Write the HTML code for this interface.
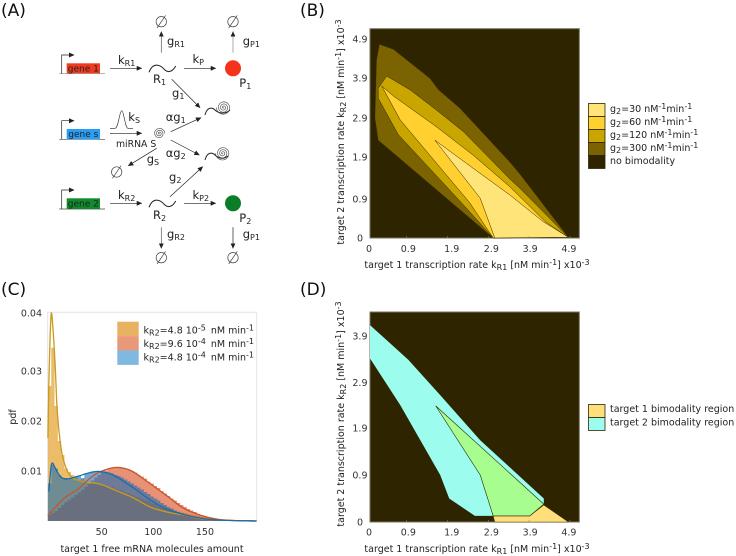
<!DOCTYPE html>
<html lang="en">
<head>
<meta charset="utf-8">
<title>Bimodality figure</title>
<style>
html,body{margin:0;padding:0;background:#fff;width:736px;height:556px;overflow:hidden}
svg{display:block;filter:blur(0.3px)}
text{font-family:"DejaVu Sans","Liberation Sans",sans-serif;fill:#222;font-size:9.5px}
.big{font-size:11.5px}
.pan{font-size:17px;fill:#111}
.gene{font-size:9px;fill:#222}
.sub{font-size:8px}
.tick{font-size:9.5px;fill:#333}
</style>
</head>
<body>
<svg id="fig" xmlns="http://www.w3.org/2000/svg" width="736" height="556" viewBox="0 0 736 556">
<defs>
<marker id="ah" markerWidth="6" markerHeight="6" refX="5" refY="2.5" orient="auto" markerUnits="userSpaceOnUse"><path d="M0,0 L5.5,2.5 L0,5 Z" fill="#222"/></marker>
</defs>

<text class="pan" x="1" y="16">(A)</text>
<text class="pan" x="300" y="16">(B)</text>
<text class="pan" x="1" y="295">(C)</text>
<text class="pan" x="300" y="295">(D)</text>

<g id="panelA" fill="none" stroke="#222" stroke-width="0.7">
  <g>
    <path d="M59.3,73.7H105" stroke="#888"/><path d="M61.7,73.7V55H74" marker-end="url(#ah)"/>
    <rect x="66.7" y="63.3" width="33.3" height="10" fill="#ef3a1e" stroke="none"/>
    <text class="gene" x="83.3" y="71.5" text-anchor="middle" stroke="none">gene 1</text>
  </g>
  <g>
    <path d="M59.3,139.3H105" stroke="#444"/><path d="M61.7,139.3V120.7H74" marker-end="url(#ah)"/>
    <rect x="66.7" y="129" width="33.3" height="10.3" fill="#2a9df4" stroke="none"/>
    <text class="gene" x="83.3" y="137" text-anchor="middle" stroke="none">gene s</text>
  </g>
  <g>
    <path d="M59.3,209H105" stroke="#444"/><path d="M61.7,209V190H74" marker-end="url(#ah)"/>
    <rect x="66.7" y="198.3" width="33.3" height="10.7" fill="#0f8a2c" stroke="none"/>
    <text class="gene" x="83.3" y="206.5" text-anchor="middle" stroke="none">gene 2</text>
  </g>
  <g>
    <path d="M110,68.3H141.7" marker-end="url(#ah)"/>
    <path d="M184,68.3H215.7" marker-end="url(#ah)"/>
    <path d="M161.3,52.7V31.7" marker-end="url(#ah)" stroke="#555"/>
    <path d="M233,52.7V31.7" marker-end="url(#ah)" stroke="#888"/>
    <path d="M171.7,79.3L200,107.7" marker-end="url(#ah)"/>
    <path d="M170.7,131.7L201,117.7" marker-end="url(#ah)"/>
    <path d="M110,133.3H141.7" marker-end="url(#ah)"/>
    <path d="M170.7,140L199.3,155" marker-end="url(#ah)"/>
    <path d="M156.7,148.3L128.3,165.7" marker-end="url(#ah)"/>
    <path d="M170,196.7L202.7,166.7" marker-end="url(#ah)"/>
    <path d="M110,203.3H141.7" marker-end="url(#ah)"/>
    <path d="M184,203.3H215.7" marker-end="url(#ah)"/>
    <path d="M161.3,227.3V248.3" marker-end="url(#ah)" stroke="#555"/>
    <path d="M233,227.3V248.3" marker-end="url(#ah)"/>
  </g>
  <path d="M110,128.3H115C118.5,128.3 119.5,110.7 121.7,110.7C123.9,110.7 125,128.3 128,128.3H133" stroke-width="0.6"/>
  <path stroke-width="1" d="M149,72.3C153,61.7 160,65 163.3,68.3C166.7,72.7 171.7,73.3 175.7,66"/>
  <path stroke-width="1" d="M149,207.3C153,196.7 160,200 163.3,203.3C166.7,207.7 171.7,208.3 175.7,201"/>
  <circle cx="233" cy="68.3" r="8" fill="#f5321a" stroke="none"/>
  <circle cx="233" cy="203.3" r="8" fill="#0b7d26" stroke="none"/>
  <path stroke-width="1" d="M205,115C207,107 212,107 215,110C218,113 225,115 230,110"/>
  <path stroke-width="1" d="M205,160C207,152 212,152 215,155C218,158 223,160 228,156"/>
  <path id="spiralC1" stroke="#444" stroke-width="0.6"/>
  <path id="spiralC2" stroke="#444" stroke-width="0.6"/>
  <path id="spiralS" stroke="#444" stroke-width="0.6"/>
  <g stroke="#444" stroke-width="0.7">
    <circle cx="161.3" cy="21.7" r="5.2"/><path d="M157,28L165.6,15.4"/>
    <circle cx="233" cy="21.7" r="5.2"/><path d="M228.7,28L237.3,15.4"/>
    <circle cx="116.7" cy="172" r="5.2"/><path d="M112.4,178.3L121,165.7"/>
    <circle cx="161.3" cy="257.7" r="5.2"/><path d="M157,264L165.6,251.4"/>
    <circle cx="233" cy="257.7" r="5.2"/><path d="M228.7,264L237.3,251.4"/>
  </g>
  <g stroke="none" fill="#222">
    <text class="big" x="118" y="64">k<tspan class="sub" dy="2">R1</tspan></text>
    <text class="big" x="192.5" y="63">k<tspan class="sub" dy="2">P</tspan></text>
    <text class="big" x="167" y="45">g<tspan class="sub" dy="2">R1</tspan></text>
    <text class="big" x="242.7" y="45">g<tspan class="sub" dy="2">P1</tspan></text>
    <text class="big" x="153" y="83">R<tspan class="sub" dy="2">1</tspan></text>
    <text class="big" x="239.3" y="87">P<tspan class="sub" dy="2">1</tspan></text>
    <text class="big" x="172" y="97">g<tspan class="sub" dy="2">1</tspan></text>
    <text class="big" x="165.7" y="121">αg<tspan class="sub" dy="2">1</tspan></text>
    <text class="big" x="128.3" y="121">k<tspan class="sub" dy="2">S</tspan></text>
    <text x="116" y="147" style="font-size:9.3px">miRNA S</text>
    <text class="big" x="165.7" y="157">αg<tspan class="sub" dy="2">2</tspan></text>
    <text class="big" x="146.7" y="163">g<tspan class="sub" dy="2">S</tspan></text>
    <text class="big" x="169" y="181">g<tspan class="sub" dy="2">2</tspan></text>
    <text class="big" x="118" y="199">k<tspan class="sub" dy="2">R2</tspan></text>
    <text class="big" x="192.5" y="199">k<tspan class="sub" dy="2">P2</tspan></text>
    <text class="big" x="153" y="219">R<tspan class="sub" dy="2">2</tspan></text>
    <text class="big" x="239.3" y="222">P<tspan class="sub" dy="2">2</tspan></text>
    <text class="big" x="167" y="238">g<tspan class="sub" dy="2">R2</tspan></text>
    <text class="big" x="242.7" y="238">g<tspan class="sub" dy="2">P1</tspan></text>
  </g>
</g>

<g id="panelB"></g>
<text x="477" y="268" text-anchor="middle">target 1 transcription rate k<tspan class="sub" dy="2">R1</tspan><tspan dy="-2"> [nM min</tspan><tspan class="sub" dy="-3">-1</tspan><tspan dy="3">] x10</tspan><tspan class="sub" dy="-3">-3</tspan></text>
<text transform="translate(344,132) rotate(-90)" text-anchor="middle">target 2 transcription rate k<tspan class="sub" dy="2">R2</tspan><tspan dy="-2"> [nM min</tspan><tspan class="sub" dy="-3">-1</tspan><tspan dy="3">] x10</tspan><tspan class="sub" dy="-3">-3</tspan></text>

<g>
  <g stroke="#2e2500" stroke-width="0.8">
    <rect x="588.5" y="103.5" width="16.5" height="13" fill="#ffe47a"/>
    <rect x="588.5" y="116.5" width="16.5" height="13" fill="#ffd02f"/>
    <rect x="588.5" y="129.5" width="16.5" height="13" fill="#c9a500"/>
    <rect x="588.5" y="142.5" width="16.5" height="13" fill="#7a6300"/>
    <rect x="588.5" y="155.5" width="16.5" height="13" fill="#2e2500"/>
  </g>
  <text x="610" y="112">g<tspan class="sub" dy="2">2</tspan><tspan dy="-2">=30 nM</tspan><tspan class="sub" dy="-3">-1</tspan><tspan dy="3">min</tspan><tspan class="sub" dy="-3">-1</tspan></text>
  <text x="610" y="125">g<tspan class="sub" dy="2">2</tspan><tspan dy="-2">=60 nM</tspan><tspan class="sub" dy="-3">-1</tspan><tspan dy="3">min</tspan><tspan class="sub" dy="-3">-1</tspan></text>
  <text x="610" y="138">g<tspan class="sub" dy="2">2</tspan><tspan dy="-2">=120 nM</tspan><tspan class="sub" dy="-3">-1</tspan><tspan dy="3">min</tspan><tspan class="sub" dy="-3">-1</tspan></text>
  <text x="610" y="151">g<tspan class="sub" dy="2">2</tspan><tspan dy="-2">=300 nM</tspan><tspan class="sub" dy="-3">-1</tspan><tspan dy="3">min</tspan><tspan class="sub" dy="-3">-1</tspan></text>
  <text x="610" y="164">no bimodality</text>
</g>

<g id="panelC"></g>
<text transform="translate(16,417) rotate(-90)" text-anchor="middle">pdf</text>
<text x="152" y="552" text-anchor="middle">target 1 free mRNA molecules amount</text>
<g>
  <rect x="117.3" y="321.7" width="21.4" height="14.4" fill="#e9b163"/>
  <rect x="117.3" y="336.1" width="21.4" height="14.4" fill="#e89a78"/>
  <rect x="117.3" y="350.5" width="21.4" height="14.4" fill="#7fb8e0"/>
  <text x="143.5" y="333.5">k<tspan class="sub" dy="2">R2</tspan><tspan dy="-2">=4.8 10</tspan><tspan class="sub" dy="-3">-5</tspan><tspan dy="3" dx="2"> nM min</tspan><tspan class="sub" dy="-3">-1</tspan></text>
  <text x="143.5" y="347">k<tspan class="sub" dy="2">R2</tspan><tspan dy="-2">=9.6 10</tspan><tspan class="sub" dy="-3">-4</tspan><tspan dy="3" dx="2"> nM min</tspan><tspan class="sub" dy="-3">-1</tspan></text>
  <text x="143.5" y="360.5">k<tspan class="sub" dy="2">R2</tspan><tspan dy="-2">=4.8 10</tspan><tspan class="sub" dy="-3">-4</tspan><tspan dy="3" dx="2"> nM min</tspan><tspan class="sub" dy="-3">-1</tspan></text>
</g>

<g id="panelD"></g>
<text x="477" y="552" text-anchor="middle">target 1 transcription rate k<tspan class="sub" dy="2">R1</tspan><tspan dy="-2"> [nM min</tspan><tspan class="sub" dy="-3">-1</tspan><tspan dy="3">] x10</tspan><tspan class="sub" dy="-3">-3</tspan></text>
<text transform="translate(344,414) rotate(-90)" text-anchor="middle">target 2 transcription rate k<tspan class="sub" dy="2">R2</tspan><tspan dy="-2"> [nM min</tspan><tspan class="sub" dy="-3">-1</tspan><tspan dy="3">] x10</tspan><tspan class="sub" dy="-3">-3</tspan></text>
<g stroke-width="0.8">
  <rect x="588.5" y="404.5" width="16.5" height="13" fill="#ffdf7b" stroke="#2e2500"/>
  <rect x="588.5" y="417.5" width="16.5" height="13" fill="#9cfced" stroke="#2e2500"/>
  <text x="610" y="412">target 1 bimodality region</text>
  <text x="610" y="425.5">target 2 bimodality region</text>
</g>
</svg>

<script>
// Panel B data (units of 1e-3 nM/min)
const bXTicks = [0, 0.9, 1.9, 2.9, 3.9, 4.9];
const bYTicks = [0, 0.9, 1.9, 2.9, 3.9, 4.9];
const g300Region = [[.23,4.77],[.57,4.65],[1.47,3.93],[1.68,3.65],[2.2,3.2],[3.43,1.87],[3.68,1.57],[4.86,.02],[3.02,0],[.20,2.41],[.12,2.95],[.16,4.38]];
const g120Region = [[.41,3.99],[.98,3.65],[1.63,3.15],[2.29,2.62],[3.43,1.45],[3.68,1.22],[4.86,.02],[3.02,0],[2.37,.73],[.69,2.55],[.20,3.44],[.20,3.69]];
const g60Region = [[.29,3.74],[.57,3.5],[1.63,2.74],[2.53,2.04],[3.43,1.26],[4.3,.4],[4.86,.02],[3.02,0],[2.45,.86],[.74,2.91]];
const g30Region = [[1.59,2.41],[2.5,1.74],[3.43,1.06],[4.25,.40],[4.86,.02],[3.06,0],[2.70,.98]];

// Panel D data
const dXTicks = [0, 0.9, 1.9, 2.9, 3.9, 4.9];
const dYTicks = [0, 0.9, 1.9, 2.9, 3.9];
const target2Region = [[0,4.19],[.94,3.45],[1.72,2.70],[2.70,1.74],[4.26,.50],[4.26,.38],[3.92,.13],[2.57,.13],[1.94,.50],[1.72,1.0],[.74,2.49],[0,3.48]];
const overlapRegion = [[1.61,2.47],[4.26,.38],[3.92,.13],[3.02,.13],[2.70,1.0]];
const target1Region = [[3.02,.13],[3.92,.13],[4.26,.36],[4.86,0],[3.06,0]];

// Panel C data
const cXTicks = [50, 100, 150];
const cYTicks = [0.01, 0.02, 0.03, 0.04];
const binStart = -2;
const binWidth = 3.2;
const histLow = [.027,.034,.023,.016,.0132,.0105,.0098,.0092,.0088,.0082,.0084,.008,.0078,.0076,.0077,.0072,.0074,.007,.0068,.0068,.0064,.0062,.0061,.0057,.0056,.0052,.0049,.0048,.0044,.0041,.0039,.0035,.0034,.003,.0029,.0026,.0024,.0023,.002,.0019,.0017,.0016,.0014,.0013,.0011,.001,.0008,.0007,.0006,.0005,.0004,.0003,.0003,.0002,.0002,.0001,.0001,.0001];
const histHigh = [.0012,.0016,.002,.0026,.0032,.0038,.0042,.0047,.0052,.0057,.0062,.0068,.0074,.0081,.0087,.0092,.0098,.0101,.0104,.0106,.0107,.0107,.0106,.0105,.0103,.01,.0097,.0092,.0089,.0085,.0079,.0075,.007,.0066,.006,.0055,.005,.0045,.0041,.0036,.0032,.0028,.0024,.0021,.0018,.0014,.0012,.001,.0008,.0006,.0005,.0004,.0003,.0002,.0002,.0001,.0001];
const histMid = [.0075,.0112,.0105,.0092,.0086,.0086,.0084,.0086,.0088,.009,.0086,.0094,.0096,.0097,.0098,.0099,.0099,.0098,.0097,.0095,.0092,.009,.0087,.0083,.0079,.0075,.0071,.0067,.0063,.0058,.0054,.0049,.0045,.0041,.0036,.0032,.0028,.0025,.0021,.0018,.0016,.0013,.0011,.0009,.0008,.0006,.0005,.0004,.0003,.0002,.0002,.0001,.0001];
const lowX = [-2,-1,0,1.3,3,5,7,10,13,19,29,48,65,81,97,113,129,145,161,200];
const lowPdf = [.0166,.0285,.0353,.04,.037,.031,.022,.0156,.0122,.0092,.008,.0074,.006,.0046,.0028,.0018,.0012,.0005,.0002,0];
const highX = [-2,14,26,39,48,63,78,94,114,129,145,161,177,200];
const highPdf = [.0011,.0046,.0062,.0086,.0098,.0107,.0101,.0079,.0049,.0026,.0012,.0004,.0001,0];
const midX = [-1,.7,2.2,5,10,16,26,39,48,61,81,97,113,129,145,161,200];
const midPdf = [.0059,.0102,.0116,.0106,.0089,.0084,.0089,.0097,.0099,.0092,.0066,.0042,.0024,.0013,.0006,.0002,0];

// Label placement offsets in px (layout only, not data)
const xLabelNudge = [-1, 1.6, 4.2, 3, 1, -1];
const bYLabelNudge = [0, -2.5, -3.9, -2.3, -1.7, 0];
const dYLabelNudge = [0, -4.7, -4.7, -3, -2.7];

const NS = 'http://www.w3.org/2000/svg';
function make(parent, tag, attrs) {
  const el = document.createElementNS(NS, tag);
  for (const k in attrs) el.setAttribute(k, attrs[k]);
  parent.appendChild(el);
  return el;
}

// Spirals for the diagram
function spiralPath(cx, cy, rMax, turns) {
  let d = '';
  const steps = turns * 24;
  for (let i = 0; i <= steps; i++) {
    const f = i / steps;
    const a = f * turns * 2 * Math.PI;
    const r = rMax * f;
    d += (i ? 'L' : 'M') + (cx + r * Math.cos(a)).toFixed(2) + ',' + (cy + r * Math.sin(a)).toFixed(2);
  }
  return d;
}
document.getElementById('spiralC1').setAttribute('d', spiralPath(223.5, 107.5, 7.2, 3.5));
document.getElementById('spiralC2').setAttribute('d', spiralPath(222.7, 153.3, 7.2, 3.5));
document.getElementById('spiralS').setAttribute('d', spiralPath(159.3, 133.5, 5.6, 3));

// Shared drawing for the region maps
function polyPoints(region, sx, sy) {
  return region.map(function (p) { return sx(p[0]).toFixed(1) + ',' + sy(p[1]).toFixed(1); }).join(' ');
}
function drawFrame(g, prefix, left, top, w, h) {
  const bg = make(g, 'rect', {x: left, y: top, width: w, height: h, fill: '#2e2500', stroke: '#77735f', 'stroke-width': 1});
  
  
}
function drawTicks(g, prefix, xTicks, yTicks, sx, sy, bottom, left, labelY, yNudge) {
  xTicks.forEach(function (v, i) {
    const tk = make(g, 'line', {x1: sx(v), x2: sx(v), y1: bottom, y2: bottom - 2, stroke: '#8a8468', 'stroke-width': .6});
    
    
    const t = make(g, 'text', {x: sx(v) + xLabelNudge[i], y: labelY, 'text-anchor': 'middle', class: 'tick'});
    
    
    t.textContent = v === 0 ? '0' : v.toFixed(1);
  });
  yTicks.forEach(function (v, i) {
    const t = make(g, 'text', {x: v === 0 ? left - 7 : left - 2.5, y: sy(v) + yNudge[i] + 3.4, 'text-anchor': 'end', class: 'tick'});
    
    
    t.textContent = v === 0 ? '0' : v.toFixed(1);
  });
}

// Panel B
(function () {
  const g = document.getElementById('panelB');
  const sx = function (v) { return 370 + v * 40.8; };
  const sy = function (v) { return 238 - v * 40.6; };
  drawFrame(g, 'b', 370, 28.7, 209.3, 209.3);
  const r300 = make(g, 'polygon', {points: polyPoints(g300Region, sx, sy), fill: '#7a6300', stroke: '#2e2500', 'stroke-width': .3});
  
  
  const r120 = make(g, 'polygon', {points: polyPoints(g120Region, sx, sy), fill: '#c9a500', stroke: '#2e2500', 'stroke-width': .5});
  
  
  const r60 = make(g, 'polygon', {points: polyPoints(g60Region, sx, sy), fill: '#ffd02f', stroke: '#2e2500', 'stroke-width': .5});
  
  
  const r30 = make(g, 'polygon', {points: polyPoints(g30Region, sx, sy), fill: '#ffe47a', stroke: '#2e2500', 'stroke-width': .5});
  
  
  drawTicks(g, 'b', bXTicks, bYTicks, sx, sy, 238, 370, 252, bYLabelNudge);
})();

// Panel D
(function () {
  const g = document.getElementById('panelD');
  const sx = function (v) { return 370 + v * 40.8; };
  const sy = function (v) { return 522 - v * 47; };
  drawFrame(g, 'd', 370, 312, 209.3, 210);
  const t2 = make(g, 'polygon', {points: polyPoints(target2Region, sx, sy), fill: '#9cfced', stroke: 'none'});
  
  
  const t1 = make(g, 'polygon', {points: polyPoints(target1Region, sx, sy), fill: '#ffdf7b', stroke: '#2e2500', 'stroke-width': .4});
  
  
  const ov = make(g, 'polygon', {points: polyPoints(overlapRegion, sx, sy), fill: '#a8fd8f', stroke: '#2e2500', 'stroke-width': .6});
  
  
  drawTicks(g, 'd', dXTicks, dYTicks, sx, sy, 522, 370, 535.5, dYLabelNudge);
})();

// Panel C
(function () {
  const g = document.getElementById('panelC');
  const sx = function (v) { return 50 + v * 1.033; };
  const sy = function (v) { return v <= 0.03 ? 521 - v * 5000 : 371 - (v - 0.03) * 5800; };
  const frame = make(g, 'path', {d: 'M47.7,521V312.3H256.7V521', fill: 'none', stroke: '#dfe4ea', 'stroke-width': 1});
  
  

  function histPath(values) {
    let d = 'M' + sx(binStart).toFixed(2) + ',' + sy(0).toFixed(2);
    values.forEach(function (v, i) {
      d += 'L' + sx(binStart + i * binWidth).toFixed(2) + ',' + sy(v).toFixed(2);
      d += 'L' + sx(binStart + (i + 1) * binWidth).toFixed(2) + ',' + sy(v).toFixed(2);
    });
    d += 'L' + sx(binStart + values.length * binWidth).toFixed(2) + ',' + sy(0).toFixed(2) + 'Z';
    return d;
  }
  const hLow = make(g, 'path', {d: histPath(histLow), fill: '#de8f05', 'fill-opacity': .6});
  
  
  const hHigh = make(g, 'path', {d: histPath(histHigh), fill: '#d8481a', 'fill-opacity': .6});
  
  
  const hMid = make(g, 'path', {d: histPath(histMid), fill: '#1c6caf', 'fill-opacity': .6});
  
  

  function curvePath(xs, ys) {
    const pts = xs.map(function (x, i) { return [sx(x), sy(ys[i])]; });
    let d = 'M' + pts[0][0].toFixed(2) + ',' + pts[0][1].toFixed(2);
    for (let i = 0; i < pts.length - 1; i++) {
      const p0 = pts[Math.max(i - 1, 0)], p1 = pts[i], p2 = pts[i + 1], p3 = pts[Math.min(i + 2, pts.length - 1)];
      const c1x = p1[0] + (p2[0] - p0[0]) / 6, c1y = p1[1] + (p2[1] - p0[1]) / 6;
      const c2x = p2[0] - (p3[0] - p1[0]) / 6, c2y = p2[1] - (p3[1] - p1[1]) / 6;
      d += 'C' + c1x.toFixed(2) + ',' + c1y.toFixed(2) + ' ' + c2x.toFixed(2) + ',' + c2y.toFixed(2) + ' ' + p2[0].toFixed(2) + ',' + p2[1].toFixed(2);
    }
    return d;
  }
  const lLow = make(g, 'path', {d: curvePath(lowX, lowPdf), fill: 'none', stroke: '#c99a1c', 'stroke-width': 1.3});
  
  
  const lHigh = make(g, 'path', {d: curvePath(highX, highPdf), fill: 'none', stroke: '#c4562a', 'stroke-width': 1.3});
  
  
  const lMid = make(g, 'path', {d: curvePath(midX, midPdf), fill: 'none', stroke: '#1a6dab', 'stroke-width': 1.3});
  
  

  cXTicks.forEach(function (v) {
    const t = make(g, 'text', {x: sx(v), y: 535, 'text-anchor': 'middle', class: 'tick'});
    
    
    t.textContent = String(v);
  });
  cYTicks.forEach(function (v) {
    const t = make(g, 'text', {x: 42, y: sy(v) + 3.4, 'text-anchor': 'end', class: 'tick'});
    
    
    t.textContent = v.toFixed(2);
  });
})();
</script>
</body>
</html>
